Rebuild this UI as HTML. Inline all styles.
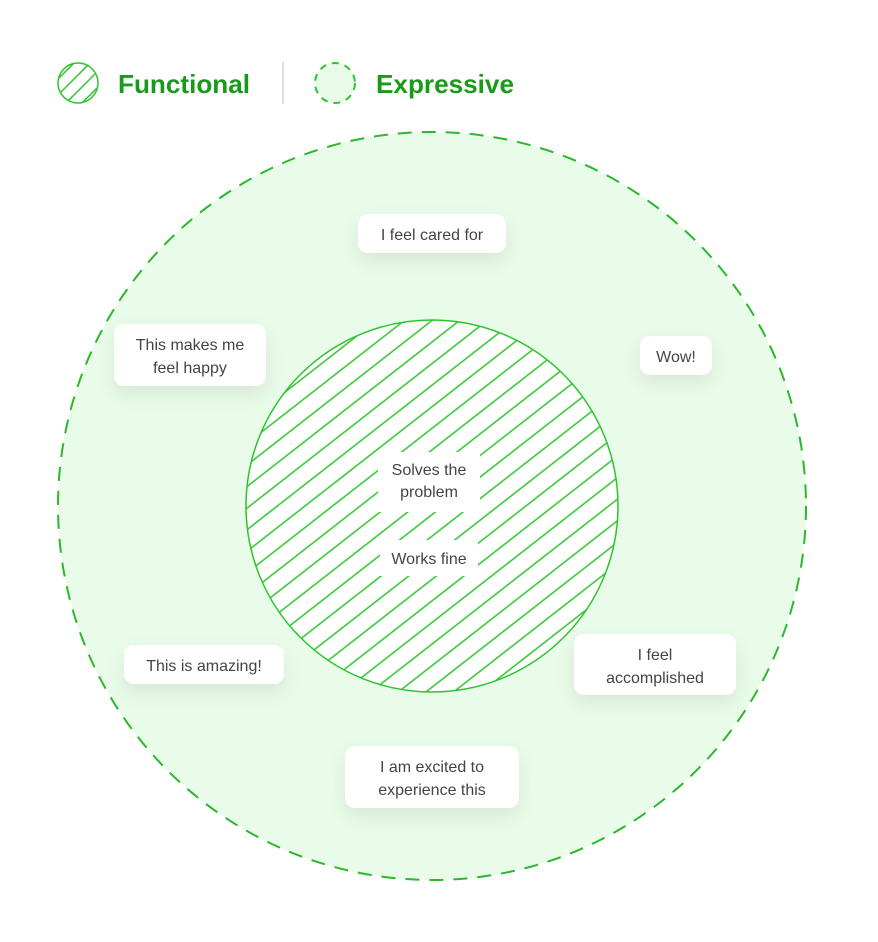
<!DOCTYPE html>
<html><head><meta charset="utf-8"><style>
body{margin:0;background:#fff;}
svg{display:block;font-family:"Liberation Sans",sans-serif;}
.b{fill:#fff;filter:url(#sh);}
.t{fill:#444;font-size:16px;text-anchor:middle;}
</style></head><body>
<svg width="878" height="942" viewBox="0 0 878 942">
<defs>
<pattern id="hat" patternUnits="userSpaceOnUse" width="17" height="17" patternTransform="rotate(-38)">
<rect width="17" height="17" fill="#fff"/>
<line x1="0" y1="8.5" x2="17" y2="8.5" stroke="#2cc52c" stroke-width="1.6"/>
</pattern>
<clipPath id="lc"><circle cx="78" cy="83" r="20"/></clipPath>
<filter id="sh" x="-30%" y="-40%" width="160%" height="220%">
<feDropShadow dx="0" dy="8" stdDeviation="9" flood-color="#000" flood-opacity="0.08"/>
</filter>
</defs>
<!-- legend -->
<circle cx="78" cy="83" r="20" fill="#fff"/>
<g clip-path="url(#lc)" stroke="#2cc52c" stroke-width="1.5">
<line x1="38" y1="83" x2="78" y2="43"/>
<line x1="46" y1="91" x2="86" y2="51"/>
<line x1="54" y1="99" x2="94" y2="59"/>
<line x1="62" y1="107" x2="102" y2="67"/>
<line x1="70" y1="115" x2="110" y2="75"/>
<line x1="30" y1="75" x2="70" y2="35"/>
</g>
<circle cx="78" cy="83" r="20" fill="none" stroke="#2cc52c" stroke-width="1.5"/>
<text x="118" y="93" fill="#1a9a1a" font-size="26" font-weight="bold" textLength="132" lengthAdjust="spacingAndGlyphs">Functional</text>
<line x1="283" y1="62" x2="283" y2="104" stroke="#ddd" stroke-width="2"/>
<circle cx="335" cy="83" r="20" fill="#e8fbe8" stroke="#2cc52c" stroke-width="2" stroke-dasharray="7 6"/>
<text x="376" y="93" fill="#1a9a1a" font-size="26" font-weight="bold" textLength="138" lengthAdjust="spacingAndGlyphs">Expressive</text>
<!-- outer -->
<circle cx="432" cy="506" r="374" fill="#e9fbe9" stroke="#2cb72c" stroke-width="2" stroke-dasharray="14 10"/>
<circle cx="432" cy="506" r="186" fill="url(#hat)" stroke="#2cc52c" stroke-width="1.5"/>
<rect x="378" y="452" width="102" height="60" fill="#fff"/>
<rect x="380" y="540" width="98" height="36" fill="#fff"/>
<text class="t" x="429" y="475">Solves the</text>
<text class="t" x="429" y="497">problem</text>
<text class="t" x="429" y="564">Works fine</text>
<!-- boxes -->
<rect class="b" x="358" y="214" width="148" height="39" rx="10"/>
<text class="t" x="432" y="240">I feel cared for</text>
<rect class="b" x="114" y="324" width="152" height="62" rx="10"/>
<text class="t" x="190" y="350">This makes me</text>
<text class="t" x="190" y="373">feel happy</text>
<rect class="b" x="640" y="336" width="72" height="39" rx="10"/>
<text class="t" x="676" y="362">Wow!</text>
<rect class="b" x="124" y="645" width="160" height="39" rx="10"/>
<text class="t" x="204" y="671">This is amazing!</text>
<rect class="b" x="574" y="634" width="162" height="61" rx="10"/>
<text class="t" x="655" y="660">I feel</text>
<text class="t" x="655" y="683">accomplished</text>
<rect class="b" x="345" y="746" width="174" height="62" rx="10"/>
<text class="t" x="432" y="772">I am excited to</text>
<text class="t" x="432" y="795">experience this</text>
</svg>
</body></html>
